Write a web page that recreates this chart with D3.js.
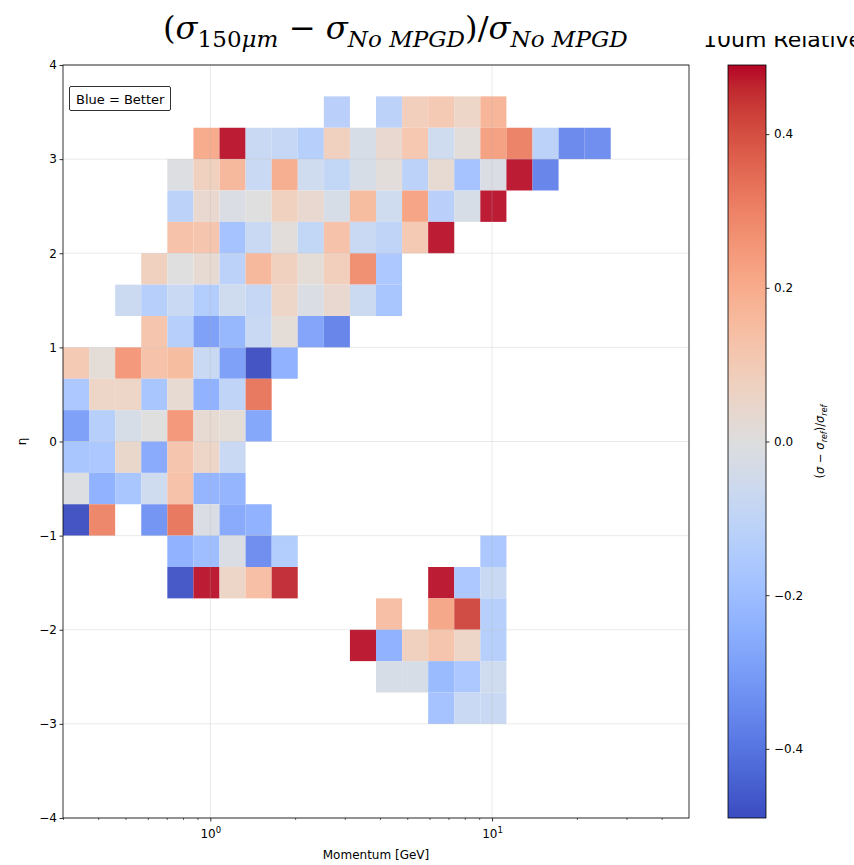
<!DOCTYPE html>
<html>
<head>
<meta charset="utf-8">
<script src="https://cdn.jsdelivr.net/npm/d3@7"></script>
<style>
  html, body { margin: 0; padding: 0; background: #fff; }
  svg { display: block; }
</style>
</head>
<body>
<svg id="chart" width="854" height="865"></svg>
<script>
// Momentum binning: 24 log-spaced bins between 0.3 and 50 GeV
const pMin = 0.3, pMax = 50, nPBins = 24;
// Pseudorapidity binning: 24 bins of width 1/3 between -4 and 4
const etaMin = -4, etaMax = 4, nEtaBins = 24;

// Relative resolution difference per (eta, p) bin.
// etaBin = index of the eta bin (0 = [-4, -3.667)), start = first momentum bin,
// vals = consecutive momentum bins (null = empty bin).
const etaBins   = [22, 21, 20, 19, 18, 17, 16, 15, 14, 13, 12, 11, 10, 9, 8, 7, 6, 5, 4, 3];
const startBins = [10,  5,  4,  4,  4,  3,  2,  3,  0,  0,  0,  0,  0, 0, 4, 4, 12, 11, 12, 14];
const binValues = [
  [-0.13, null, -0.12, 0.09, 0.11, 0.06, 0.18],
  [0.21, 0.48, -0.08, -0.09, -0.14, 0.08, -0.03, 0.04, 0.12, -0.06, 0.01, 0.24, 0.31, -0.12, -0.36, -0.35],
  [-0.01, 0.08, 0.17, -0.08, 0.20, -0.06, -0.10, -0.03, 0.01, -0.12, 0.03, -0.19, -0.02, 0.48, -0.37],
  [-0.12, 0.04, -0.02, 0.00, 0.08, 0.04, -0.03, 0.16, -0.06, 0.23, -0.13, -0.03, 0.48],
  [0.14, 0.13, -0.19, -0.08, 0.01, -0.10, 0.14, -0.08, -0.11, 0.11, 0.48],
  [0.08, 0.00, 0.03, -0.12, 0.17, 0.08, 0.02, 0.09, 0.28, -0.17],
  [-0.07, -0.14, -0.08, -0.15, -0.06, -0.09, 0.06, -0.02, 0.04, -0.07, -0.18],
  [0.13, -0.14, -0.30, -0.23, -0.08, 0.02, -0.29, -0.37],
  [0.11, 0.02, 0.26, 0.14, 0.16, -0.08, -0.30, -0.49, -0.25],
  [-0.17, 0.06, 0.06, -0.18, 0.03, -0.25, -0.11, 0.33],
  [-0.30, -0.14, -0.03, 0.00, 0.26, 0.03, 0.02, -0.28],
  [-0.18, -0.17, 0.05, -0.27, 0.13, 0.06, -0.08],
  [-0.01, -0.25, -0.18, -0.06, 0.14, -0.24, -0.24],
  [-0.49, 0.30, null, -0.33, 0.33, -0.02, -0.27, -0.25],
  [-0.25, -0.21, -0.02, -0.35, -0.15, null, null, null, null, null, null, null, -0.17],
  [-0.48, 0.48, 0.06, 0.15, 0.46, null, null, null, null, null, 0.48, -0.17, -0.08],
  [0.15, null, 0.22, 0.42, -0.14],
  [0.48, -0.25, 0.08, 0.13, 0.06, -0.14],
  [-0.03, -0.03, -0.22, -0.17, -0.06],
  [-0.19, -0.08, -0.08]
];

const colorLimit = 0.49;
const yTickValues = [-4, -3, -2, -1, 0, 1, 2, 3, 4];
const xMajorTicks = [1, 10];
const xMinorTicks = [0.3, 0.4, 0.5, 0.6, 0.7, 0.8, 0.9, 2, 3, 4, 5, 6, 7, 8, 9, 20, 30, 40];
const cbarTicks = [-0.4, -0.2, 0.0, 0.2, 0.4];

// matplotlib "coolwarm" (Moreland diverging map) control colours
const coolwarmStops = [
  [59,76,192],[68,90,204],[77,104,215],[87,117,225],[98,130,234],[108,142,241],
  [119,154,247],[130,165,251],[141,176,254],[152,185,255],[163,194,255],[174,201,253],
  [184,208,249],[194,213,244],[204,217,238],[213,219,230],[221,221,221],[229,216,209],
  [236,211,197],[241,204,184],[245,196,172],[247,187,159],[247,177,147],[247,166,134],
  [244,154,123],[241,141,111],[236,127,99],[229,112,88],[222,96,77],[213,80,66],
  [203,62,56],[192,40,47],[180,4,38]
];
const cwDomain = coolwarmStops.map((_, i) => i / (coolwarmStops.length - 1));
const cwScale = d3.scaleLinear().domain(cwDomain)
  .range(coolwarmStops.map(c => `rgb(${c[0]},${c[1]},${c[2]})`))
  .interpolate(d3.interpolateRgb).clamp(true);
const norm = d3.scaleLinear().domain([-colorLimit, colorLimit]).range([0, 1]).clamp(true);
const color = v => cwScale(norm(v));

// Layout
const plot = { left: 63, top: 65, right: 689, bottom: 818 };
const cbar = { left: 728, right: 766 };

const svg = d3.select("#chart");
const font = "'DejaVu Sans', sans-serif";

const x = d3.scaleLog().domain([pMin, pMax]).range([plot.left, plot.right]);
const y = d3.scaleLinear().domain([etaMin, etaMax]).range([plot.bottom, plot.top]);

const logStep = (Math.log10(pMax) - Math.log10(pMin)) / nPBins;
const pEdge = i => Math.pow(10, Math.log10(pMin) + i * logStep);
const etaStep = (etaMax - etaMin) / nEtaBins;
const etaEdge = k => etaMin + k * etaStep;

// Flatten bins into cells
const cells = [];
etaBins.forEach((k, r) => {
  binValues[r].forEach((v, j) => {
    if (v === null) return;
    const i = startBins[r] + j;
    cells.push({ i, k, v });
  });
});

svg.append("g").selectAll("rect").data(cells).join("rect")
  .attr("x", d => x(pEdge(d.i)))
  .attr("width", d => x(pEdge(d.i + 1)) - x(pEdge(d.i)))
  .attr("y", d => y(etaEdge(d.k + 1)))
  .attr("height", d => y(etaEdge(d.k)) - y(etaEdge(d.k + 1)))
  .attr("fill", d => color(d.v))
  .attr("fill-opacity", 0.95);

// Grid on top of the mesh
const grid = svg.append("g").attr("stroke", "#b0b0b0").attr("stroke-opacity", 0.35).attr("stroke-width", 0.8);
grid.selectAll("line.gx").data(xMajorTicks).join("line")
  .attr("x1", d => x(d)).attr("x2", d => x(d))
  .attr("y1", plot.top).attr("y2", plot.bottom);
grid.selectAll("line.gy").data(yTickValues).join("line")
  .attr("x1", plot.left).attr("x2", plot.right)
  .attr("y1", d => y(d)).attr("y2", d => y(d));

// Axes
const xAxisMinor = d3.axisBottom(x).tickValues(xMinorTicks).tickSize(2).tickFormat("");
svg.append("g").attr("transform", `translate(0,${plot.bottom})`).call(xAxisMinor)
  .call(g => g.select(".domain").remove())
  .call(g => g.selectAll("line").attr("stroke", "#000").attr("stroke-width", 0.6));
const xAxis = d3.axisBottom(x).tickValues(xMajorTicks).tickSize(3.5).tickFormat("");
const xg = svg.append("g").attr("transform", `translate(0,${plot.bottom})`).call(xAxis)
  .call(g => g.select(".domain").remove())
  .call(g => g.selectAll("line").attr("stroke", "#000").attr("stroke-width", 0.8));
// 10^n labels
xg.selectAll("g.tick").each(function(d) {
  const t = d3.select(this).append("text")
    .attr("y", 20).attr("text-anchor", "middle")
    .attr("fill", "#000").style("font-family", font).style("font-size", "12px");
  t.append("tspan").text("10");
  t.append("tspan").attr("dy", -5).style("font-size", "8.5px").text(Math.round(Math.log10(d)));
});

const yAxis = d3.axisLeft(y).tickValues(yTickValues).tickSize(3.5)
  .tickFormat(d => d < 0 ? "\u2212" + Math.abs(d) : String(d));
svg.append("g").attr("transform", `translate(${plot.left},0)`).call(yAxis)
  .call(g => g.select(".domain").remove())
  .call(g => g.selectAll("line").attr("stroke", "#000").attr("stroke-width", 0.8))
  .call(g => g.selectAll("text").attr("x", -6).style("font-family", font).style("font-size", "12px").attr("fill", "#000"));

// Frame
svg.append("rect")
  .attr("x", plot.left).attr("y", plot.top)
  .attr("width", plot.right - plot.left).attr("height", plot.bottom - plot.top)
  .attr("fill", "none").attr("stroke", "#000").attr("stroke-width", 0.8);

// Axis labels
svg.append("text").attr("x", (plot.left + plot.right) / 2).attr("y", 859)
  .attr("text-anchor", "middle").style("font-family", font).style("font-size", "12px")
  .text("Momentum [GeV]");
svg.append("text").attr("transform", `translate(26,${(plot.top + plot.bottom) / 2}) rotate(-90)`)
  .attr("text-anchor", "middle").style("font-family", font).style("font-size", "12px")
  .text("η");

// Legend-style note
svg.append("rect").attr("x", 69.5).attr("y", 86.5).attr("width", 101).attr("height", 24)
  .attr("fill", "#fff").attr("fill-opacity", 0.8).attr("stroke", "#333").attr("stroke-width", 1).attr("rx", 1.5);
svg.append("text").attr("x", 76).attr("y", 103.5)
  .style("font-family", font).style("font-size", "13px").text("Blue = Better");

// Colorbar
const defs = svg.append("defs");
const grad = defs.append("linearGradient").attr("id", "cw-grad")
  .attr("x1", 0).attr("y1", 1).attr("x2", 0).attr("y2", 0);
grad.selectAll("stop").data(coolwarmStops).join("stop")
  .attr("offset", (_, i) => cwDomain[i])
  .attr("stop-color", c => `rgb(${c[0]},${c[1]},${c[2]})`);
const cy = d3.scaleLinear().domain([-colorLimit, colorLimit]).range([plot.bottom, plot.top]);
svg.append("rect").attr("x", cbar.left).attr("y", plot.top)
  .attr("width", cbar.right - cbar.left).attr("height", plot.bottom - plot.top)
  .attr("fill", "url(#cw-grad)").attr("stroke", "#000").attr("stroke-width", 0.8);
const cAxis = d3.axisRight(cy).tickValues(cbarTicks).tickSize(3.5)
  .tickFormat(d => (d < 0 ? "\u2212" : "") + Math.abs(d).toFixed(1));
svg.append("g").attr("transform", `translate(${cbar.right},0)`).call(cAxis)
  .call(g => g.select(".domain").remove())
  .call(g => g.selectAll("line").attr("stroke", "#000").attr("stroke-width", 0.8))
  .call(g => g.selectAll("text").attr("x", 8).style("font-family", font).style("font-size", "12px").attr("fill", "#000"));

// Colorbar label: (σ − σ_ref)/σ_ref
const cl = svg.append("text")
  .attr("transform", `translate(824,${(plot.top + plot.bottom) / 2}) rotate(-90)`)
  .attr("text-anchor", "middle").style("font-family", font).style("font-size", "11.5px");
cl.append("tspan").text("(");
cl.append("tspan").style("font-style", "italic").text("σ");
cl.append("tspan").text(" \u2212 ");
cl.append("tspan").style("font-style", "italic").text("σ");
cl.append("tspan").attr("dy", 3).style("font-size", "8px").style("font-style", "italic").text("ref");
cl.append("tspan").attr("dy", -3).text(")/");
cl.append("tspan").style("font-style", "italic").text("σ");
cl.append("tspan").attr("dy", 3).style("font-size", "8px").style("font-style", "italic").text("ref");

// Partially hidden colorbar heading (runs off the right edge)
defs.append("clipPath").attr("id", "head-clip").append("rect")
  .attr("x", 690).attr("y", 36).attr("width", 164).attr("height", 20);
svg.append("text").attr("x", 703).attr("y", 46.5).attr("clip-path", "url(#head-clip)")
  .style("font-family", font).style("font-size", "22px").text("10um Relative");

// Title: (σ_150μm − σ_No MPGD)/σ_No MPGD, fitted between x = 163 and x = 628
const serif = "'DejaVu Serif', 'Liberation Serif', serif";
const titleG = svg.append("g");
const title = titleG.append("text").attr("x", 0).attr("y", 0)
  .style("font-family", serif).style("font-size", "28px").attr("fill", "#000");
const sub = (txt, italic) => title.append("tspan").attr("dy", 7).style("font-size", "20px")
  .style("font-style", italic ? "italic" : "normal").text(txt);
title.append("tspan").text("(");
title.append("tspan").style("font-style", "italic").text("σ");
sub("150", false);
title.append("tspan").style("font-size", "20px").style("font-style", "italic").text("μm");
title.append("tspan").attr("dy", -7).text(" \u2212 ");
title.append("tspan").style("font-style", "italic").text("σ");
sub("No MPGD", true);
title.append("tspan").attr("dy", -7).text(")/");
title.append("tspan").style("font-style", "italic").text("σ");
sub("No MPGD", true);
const tb = title.node().getBBox();
const tScale = (628 - 163) / tb.width;
titleG.attr("transform", `translate(${163 - tb.x * tScale},39) scale(${tScale})`);
</script>
</body>
</html>
